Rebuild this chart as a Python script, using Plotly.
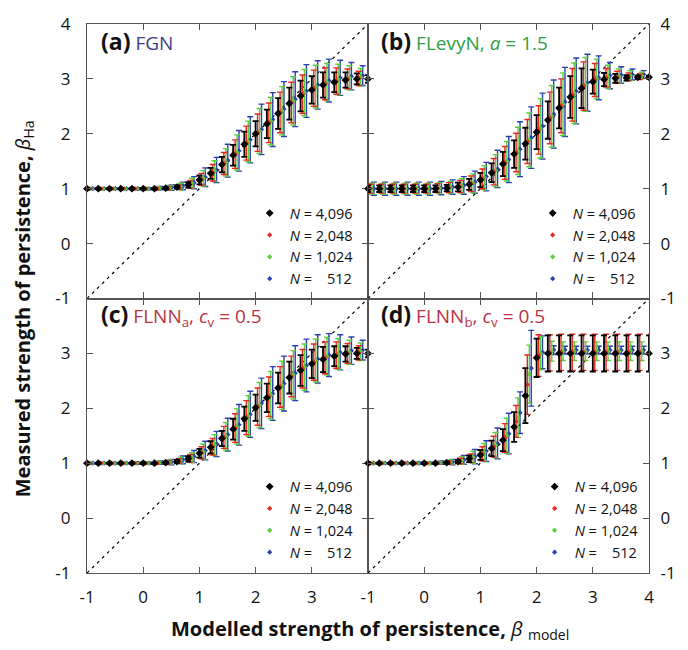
import plotly.graph_objects as go
from plotly.subplots import make_subplots

# ---------------- data ----------------
beta_model = [-1.0, -0.8, -0.6, -0.4, -0.2, 0.0, 0.2, 0.4, 0.6, 0.8, 1.0, 1.2, 1.4,
              1.6, 1.8, 2.0, 2.2, 2.4, 2.6, 2.8, 3.0, 3.2, 3.4, 3.6, 3.8, 4.0]
axis_ticks = [-1, 0, 1, 2, 3, 4]
axis_ticks_no4 = [-1, 0, 1, 2, 3]
tick_labels = ["-1", "0", "1", "2", "3", "4"]
tick_labels_no4 = ["-1", "0", "1", "2", "3"]
identity = [-1, 4]
series_names = ["N = 4,096", "N = 2,048", "N = 1,024", "N = 512"]

# (a) FGN
a_mean_4096 = [1.00,1.00,1.00,1.00,1.00,1.00,1.00,1.01,1.03,1.07,1.16,1.28,1.44,1.61,1.81,2.00,2.18,2.37,2.55,2.69,2.80,2.89,2.94,2.98,3.00,3.00]
a_err_4096  = [0.01,0.01,0.01,0.01,0.01,0.01,0.01,0.02,0.03,0.05,0.08,0.10,0.14,0.19,0.23,0.23,0.26,0.28,0.29,0.28,0.25,0.23,0.18,0.14,0.10,0.07]
a_mean_2048 = [1.00,1.00,1.00,1.00,1.00,1.00,1.00,1.01,1.03,1.08,1.17,1.29,1.46,1.63,1.83,2.02,2.20,2.39,2.57,2.72,2.83,2.91,2.96,3.00,3.01,3.01]
a_err_2048  = [0.01,0.01,0.01,0.01,0.01,0.01,0.02,0.03,0.04,0.07,0.11,0.15,0.20,0.26,0.31,0.34,0.36,0.37,0.37,0.35,0.33,0.29,0.24,0.18,0.13,0.09]
a_mean_1024 = [1.00,1.00,1.00,1.00,1.00,1.00,1.01,1.02,1.04,1.10,1.19,1.32,1.48,1.66,1.86,2.05,2.23,2.42,2.60,2.75,2.86,2.94,2.99,3.02,3.03,3.03]
a_err_1024  = [0.01,0.01,0.01,0.01,0.01,0.02,0.02,0.04,0.06,0.09,0.14,0.19,0.25,0.32,0.37,0.41,0.43,0.44,0.44,0.42,0.39,0.34,0.28,0.22,0.16,0.11]
a_mean_512  = [1.00,1.00,1.00,1.00,1.00,1.00,1.01,1.02,1.05,1.11,1.21,1.34,1.51,1.69,1.89,2.08,2.26,2.45,2.63,2.78,2.89,2.97,3.02,3.05,3.06,3.06]
a_err_512   = [0.01,0.01,0.01,0.01,0.02,0.02,0.03,0.05,0.07,0.11,0.17,0.23,0.30,0.37,0.42,0.46,0.49,0.50,0.50,0.48,0.44,0.39,0.32,0.25,0.18,0.13]

# (b) FLevyN, a = 1.5
b_mean_4096 = [1.00,1.00,1.00,1.00,1.00,1.00,1.00,1.01,1.03,1.08,1.16,1.29,1.45,1.63,1.82,2.03,2.25,2.47,2.67,2.83,2.95,2.99,3.01,3.02,3.03,3.03]
b_err_4096  = [0.06,0.06,0.06,0.06,0.06,0.06,0.06,0.06,0.08,0.10,0.13,0.17,0.22,0.25,0.29,0.31,0.34,0.37,0.38,0.36,0.22,0.12,0.08,0.05,0.03,0.03]
b_mean_2048 = [1.00,1.00,1.00,1.00,1.00,1.00,1.01,1.02,1.04,1.09,1.18,1.31,1.47,1.66,1.86,2.07,2.29,2.51,2.71,2.87,2.98,3.02,3.03,3.04,3.04,3.04]
b_err_2048  = [0.08,0.08,0.08,0.08,0.08,0.08,0.08,0.09,0.11,0.14,0.18,0.24,0.30,0.35,0.40,0.44,0.47,0.49,0.48,0.44,0.30,0.17,0.11,0.07,0.05,0.04]
b_mean_1024 = [1.00,1.00,1.00,1.00,1.00,1.00,1.01,1.02,1.05,1.10,1.20,1.33,1.50,1.69,1.89,2.10,2.32,2.54,2.74,2.90,3.00,3.04,3.05,3.06,3.06,3.06]
b_err_1024  = [0.10,0.10,0.10,0.10,0.10,0.10,0.10,0.11,0.13,0.17,0.22,0.29,0.36,0.43,0.49,0.54,0.56,0.57,0.55,0.49,0.36,0.21,0.13,0.09,0.06,0.05]
b_mean_512  = [1.00,1.00,1.00,1.00,1.00,1.00,1.01,1.03,1.06,1.12,1.22,1.36,1.53,1.72,1.93,2.14,2.36,2.58,2.78,2.93,3.02,3.06,3.07,3.08,3.08,3.08]
b_err_512   = [0.12,0.12,0.12,0.12,0.12,0.12,0.12,0.13,0.16,0.20,0.26,0.34,0.42,0.50,0.56,0.60,0.62,0.63,0.60,0.52,0.40,0.24,0.15,0.10,0.07,0.06]

# (c) FLNN_a, c_v = 0.5
c_mean_4096 = [1.00,1.00,1.00,1.00,1.00,1.00,1.00,1.01,1.03,1.08,1.18,1.29,1.45,1.62,1.81,2.01,2.19,2.37,2.56,2.69,2.81,2.89,2.95,2.99,3.00,3.00]
c_err_4096  = [0.01,0.01,0.01,0.01,0.01,0.01,0.01,0.02,0.03,0.05,0.08,0.11,0.14,0.19,0.22,0.24,0.26,0.28,0.29,0.28,0.26,0.23,0.18,0.14,0.10,0.07]
c_mean_2048 = [1.00,1.00,1.00,1.00,1.00,1.00,1.00,1.01,1.04,1.09,1.19,1.30,1.47,1.64,1.83,2.03,2.21,2.39,2.58,2.72,2.84,2.92,2.97,3.00,3.01,3.01]
c_err_2048  = [0.01,0.01,0.01,0.01,0.01,0.01,0.02,0.03,0.04,0.07,0.11,0.15,0.20,0.26,0.31,0.34,0.36,0.37,0.37,0.35,0.33,0.29,0.24,0.18,0.13,0.09]
c_mean_1024 = [1.00,1.00,1.00,1.00,1.00,1.00,1.01,1.02,1.05,1.10,1.21,1.33,1.49,1.67,1.86,2.06,2.24,2.42,2.61,2.75,2.87,2.95,2.99,3.02,3.03,3.03]
c_err_1024  = [0.01,0.01,0.01,0.01,0.01,0.02,0.02,0.04,0.06,0.09,0.14,0.19,0.25,0.32,0.37,0.41,0.43,0.44,0.44,0.42,0.39,0.34,0.28,0.22,0.16,0.11]
c_mean_512  = [1.00,1.00,1.00,1.00,1.00,1.00,1.01,1.02,1.06,1.12,1.23,1.35,1.52,1.70,1.89,2.09,2.27,2.45,2.64,2.78,2.90,2.97,3.02,3.05,3.06,3.06]
c_err_512   = [0.01,0.01,0.01,0.01,0.02,0.02,0.03,0.05,0.07,0.11,0.17,0.23,0.30,0.37,0.42,0.46,0.49,0.50,0.50,0.48,0.44,0.39,0.32,0.25,0.18,0.13]

# (d) FLNN_b, c_v = 0.5
d_mean_4096 = [1.00,1.00,1.00,1.00,1.00,1.00,1.00,1.01,1.03,1.08,1.15,1.27,1.42,1.66,2.23,2.92,3.00,3.00,3.00,3.00,3.00,3.00,3.00,3.00,3.00,3.00]
d_err_4096  = [0.01,0.01,0.01,0.01,0.01,0.01,0.01,0.02,0.03,0.06,0.09,0.14,0.20,0.27,0.50,0.35,0.33,0.33,0.33,0.33,0.33,0.33,0.33,0.33,0.33,0.33]
d_mean_2048 = [1.00,1.00,1.00,1.00,1.00,1.00,1.00,1.01,1.04,1.09,1.17,1.30,1.46,1.76,2.43,2.96,3.01,3.02,3.02,3.02,3.02,3.02,3.02,3.02,3.02,3.02]
d_err_2048  = [0.01,0.01,0.01,0.01,0.01,0.01,0.02,0.03,0.05,0.08,0.13,0.19,0.26,0.29,0.54,0.38,0.33,0.33,0.33,0.33,0.33,0.33,0.33,0.33,0.33,0.33]
d_mean_1024 = [1.00,1.00,1.00,1.00,1.00,1.00,1.01,1.02,1.05,1.11,1.20,1.33,1.50,1.83,2.62,3.00,3.04,3.04,3.04,3.04,3.04,3.04,3.04,3.04,3.04,3.04]
d_err_1024  = [0.01,0.01,0.01,0.01,0.01,0.02,0.02,0.04,0.07,0.11,0.16,0.23,0.32,0.36,0.53,0.30,0.18,0.17,0.17,0.17,0.17,0.17,0.17,0.17,0.17,0.17]
d_mean_512  = [1.00,1.00,1.00,1.00,1.00,1.00,1.01,1.02,1.06,1.12,1.22,1.36,1.54,1.92,2.73,3.02,3.06,3.06,3.06,3.06,3.06,3.06,3.06,3.06,3.06,3.06]
d_err_512   = [0.01,0.01,0.01,0.01,0.02,0.02,0.03,0.05,0.08,0.13,0.19,0.28,0.37,0.38,0.69,0.30,0.08,0.07,0.07,0.07,0.07,0.07,0.07,0.07,0.07,0.07]

panel_data = {
    "a": [(a_mean_4096, a_err_4096), (a_mean_2048, a_err_2048), (a_mean_1024, a_err_1024), (a_mean_512, a_err_512)],
    "b": [(b_mean_4096, b_err_4096), (b_mean_2048, b_err_2048), (b_mean_1024, b_err_1024), (b_mean_512, b_err_512)],
    "c": [(c_mean_4096, c_err_4096), (c_mean_2048, c_err_2048), (c_mean_1024, c_err_1024), (c_mean_512, c_err_512)],
    "d": [(d_mean_4096, d_err_4096), (d_mean_2048, d_err_2048), (d_mean_1024, d_err_1024), (d_mean_512, d_err_512)],
}

# ---------------- style ----------------
FONT = "Open Sans"
series_colors = ["#000000", "#e8281e", "#5ccb3c", "#2a3fb0"]
series_dx = [0.0, 0.035, 0.07, 0.105]      # visual dodge of the four series
marker_sizes = [6, 4, 4, 4]
bar_thick = [1.8, 1.4, 1.4, 1.4]
frame_col = "#555555"

legend_labels = ["<i>N</i> = 4,096", "<i>N</i> = 2,048", "<i>N</i> = 1,024",
                 "<i>N</i> =\u00a0\u00a0\u00a0\u00a0512"]

panels = [("a", 1, 1, "legend"), ("b", 1, 2, "legend2"),
          ("c", 2, 1, "legend3"), ("d", 2, 2, "legend4")]

fig = make_subplots(rows=2, cols=2, horizontal_spacing=0, vertical_spacing=0)

for key, r, c, leg in panels:
    fig.add_trace(go.Scatter(x=identity, y=identity, mode="lines",
                             line=dict(color="black", width=1.2, dash="3px,4px"),
                             showlegend=False, hoverinfo="skip"), row=r, col=c)
    for i in [3, 2, 1, 0]:
        mean, err = panel_data[key][i]
        fig.add_trace(go.Scatter(
            x=[v + series_dx[i] for v in beta_model], y=mean, mode="markers",
            marker=dict(symbol="diamond", size=marker_sizes[i], color=series_colors[i],
                        line=dict(width=0)),
            error_y=dict(type="data", array=err, visible=True, color=series_colors[i],
                         thickness=bar_thick[i], width=3),
            name=legend_labels[i], legend=leg, cliponaxis=False, showlegend=True),
            row=r, col=c)

axis_common = dict(range=identity, ticks="inside", ticklen=6,
                   tickcolor=frame_col, tickwidth=1.2, showline=True, linecolor=frame_col,
                   linewidth=1.2, mirror="ticks", showgrid=False, zeroline=False,
                   tickfont=dict(family=FONT, size=17, color="#111"))

# x axes
fig.update_xaxes(**axis_common, tickvals=axis_ticks, showticklabels=False, row=1, col=1)
fig.update_xaxes(**axis_common, tickvals=axis_ticks, showticklabels=False, row=1, col=2)
fig.update_xaxes(**axis_common, tickvals=axis_ticks_no4, ticktext=tick_labels_no4, ticklabelstandoff=8, row=2, col=1)
fig.update_xaxes(**axis_common, tickvals=axis_ticks, ticktext=tick_labels, ticklabelstandoff=8, row=2, col=2)
# y axes
fig.update_yaxes(**axis_common, tickvals=axis_ticks, ticktext=tick_labels, ticklabelstandoff=12, row=1, col=1)
fig.update_yaxes(**axis_common, tickvals=axis_ticks_no4, ticktext=tick_labels_no4, ticklabelstandoff=12, row=2, col=1)
fig.update_yaxes(**axis_common, tickvals=axis_ticks, ticktext=tick_labels, side="right", ticklabelstandoff=7, row=1, col=2)
fig.update_yaxes(**axis_common, tickvals=axis_ticks_no4, ticktext=tick_labels_no4, side="right", ticklabelstandoff=7, row=2, col=2)

W, H = 688, 650
ML, MR, MT, MB = 87, 31, 15, 77
pw, ph = W - ML - MR, H - MT - MB

def px(xp):
    return (xp - ML) / pw

def py(yp):
    return 1 - (yp - MT) / ph

leg_common = dict(xanchor="left", yanchor="top", bgcolor="rgba(0,0,0,0)",
                  font=dict(family=FONT, size=14.5, color="#111"), traceorder="reversed",
                  itemwidth=30, tracegroupgap=0)
fig.update_layout(
    legend=dict(x=px(252), y=py(191), **leg_common),
    legend2=dict(x=px(539), y=py(191), **leg_common),
    legend3=dict(x=px(252), y=py(469), **leg_common),
    legend4=dict(x=px(541), y=py(469), **leg_common),
)

titles = [
    ("a", 99, 32, "<span style='color:#3d3d85'>FGN</span>"),
    ("b", 383, 32, "<span style='color:#2f9e44'>FLevyN, <i>a</i> = 1.5</span>"),
    ("c", 99, 310, "<span style='color:#b8323f'>FLNN<sub>a</sub>, <i>c</i><sub>v</sub> = 0.5</span>"),
    ("d", 383, 310, "<span style='color:#b8323f'>FLNN<sub>b</sub>, <i>c</i><sub>v</sub> = 0.5</span>"),
]
for key, xp, yp, txt in titles:
    fig.add_annotation(xref="paper", yref="paper", x=px(xp), y=py(yp), xanchor="left",
                       yanchor="middle", showarrow=False,
                       text=f"<span style='font-size:23px'><b>({key})</b></span> {txt}",
                       font=dict(family=FONT, size=19, color="#111"))

fig.add_annotation(xref="paper", yref="paper", x=px(22), y=py(304), textangle=-90,
                   xanchor="center", yanchor="middle", showarrow=False,
                   text="<b>Measured strength of persistence,</b> <i>β</i><sub>Ha</sub>",
                   font=dict(family=FONT, size=20, color="#111"))
fig.add_annotation(xref="paper", yref="paper", x=px(374), y=py(630),
                   xanchor="center", yanchor="middle", showarrow=False,
                   text="<b>Modelled strength of persistence,</b> <i>β</i> <sub>model</sub>",
                   font=dict(family=FONT, size=20, color="#111"))

fig.update_layout(width=W, height=H, margin=dict(l=ML, r=MR, t=MT, b=MB),
                  paper_bgcolor="white", plot_bgcolor="white",
                  font=dict(family=FONT, color="#111"))

fig.write_html("out.html")
